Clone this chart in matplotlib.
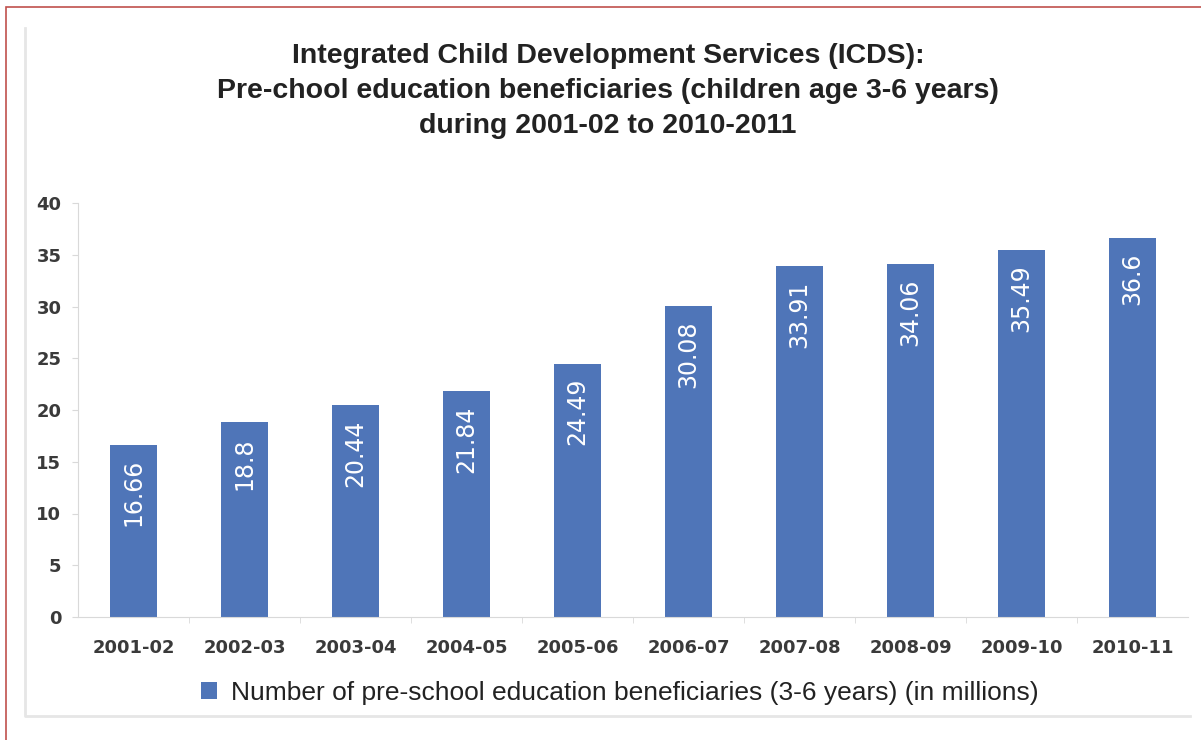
import matplotlib.pyplot as plt
from matplotlib.patches import Rectangle
from matplotlib.lines import Line2D

# data
years = ['2001-02', '2002-03', '2003-04', '2004-05', '2005-06',
         '2006-07', '2007-08', '2008-09', '2009-10', '2010-11']
beneficiaries = [16.66, 18.8, 20.44, 21.84, 24.49, 30.08, 33.91, 34.06, 35.49, 36.6]
value_labels = ['16.66', '18.8', '20.44', '21.84', '24.49', '30.08', '33.91', '34.06', '35.49', '36.6']
yticks = [0, 5, 10, 15, 20, 25, 30, 35, 40]

W, H = 1201, 740
fig = plt.figure(figsize=(W / 100, H / 100), dpi=100)
fig.patch.set_facecolor('white')

# outer red border (runs off the right/bottom edge) and faint grey frame on left/bottom
fig.patches.append(Rectangle((6 / W, 1 - 760 / H), 1300 / W, 753 / H, transform=fig.transFigure,
                             fill=False, edgecolor='#c0504d', linewidth=1.2))
fig.lines.append(Line2D([25 / W, 25 / W, 1190 / W], [1 - 28 / H, 1 - 716 / H, 1 - 716 / H],
                        transform=fig.transFigure, color='#e6e6e6', linewidth=2))

ax = fig.add_axes([78 / W, 1 - 617 / H, 1110 / W, 414 / H])
x = range(len(years))
bars = ax.bar(x, beneficiaries, width=0.425, color='#4f75b8')

for i, v in enumerate(beneficiaries):
    ax.annotate(value_labels[i], (i, v), xytext=(0, -10.5), textcoords='offset points',
                rotation=90, ha='center', va='top', color='white', fontsize=17)

ax.set_xlim(-0.5, len(years) - 0.5)
ax.set_ylim(0, 40)
ax.set_yticks(yticks)
ax.set_xticks(list(x))
ax.set_xticklabels(years)
ax.tick_params(axis='y', length=4, color='#d9d9d9', labelsize=13, labelcolor='#3a3a3a', pad=8)
ax.tick_params(axis='x', length=0, labelsize=13, labelcolor='#3a3a3a', pad=16)
for lab in ax.get_xticklabels() + ax.get_yticklabels():
    lab.set_fontweight('bold')
ax.set_xticks([i + 0.5 for i in range(len(years) - 1)], minor=True)
ax.tick_params(axis='x', which='minor', length=4, color='#d9d9d9')

for s in ['top', 'right']:
    ax.spines[s].set_visible(False)
ax.spines['left'].set_color('#d9d9d9')
ax.spines['bottom'].set_color('#d9d9d9')

fig.text(608 / W, 1 - 91 / H,
         'Integrated Child Development Services (ICDS):\n'
         'Pre-chool education beneficiaries (children age 3-6 years)\n'
         'during 2001-02 to 2010-2011',
         ha='center', va='center', fontsize=20.5, fontweight='bold', color='#222222',
         family='Liberation Sans', linespacing=1.45)

leg = ax.legend([bars], ['Number of pre-school education beneficiaries (3-6 years) (in millions)'],
                loc='center', bbox_to_anchor=(542 / 1110, -76 / 414), frameon=False,
                handlelength=0.6, handleheight=0.6, handletextpad=0.55,
                prop={'family': 'Liberation Sans', 'size': 19})
for t in leg.get_texts():
    t.set_color('#222222')

fig.savefig('out.png', dpi=100)
